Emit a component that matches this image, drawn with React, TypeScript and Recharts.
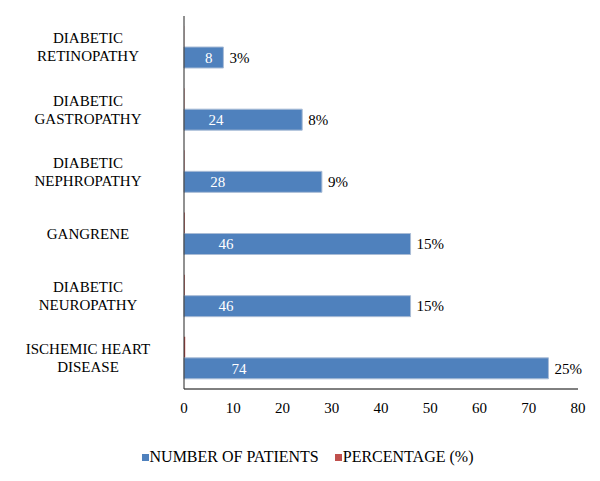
import React from 'react';
import { BarChart, Bar, XAxis, YAxis, Legend, LabelList } from 'recharts';

// categories, top to bottom
const categories: string[] = [
  'DIABETIC\nRETINOPATHY',
  'DIABETIC\nGASTROPATHY',
  'DIABETIC\nNEPHROPATHY',
  'GANGRENE',
  'DIABETIC\nNEUROPATHY',
  'ISCHEMIC HEART\nDISEASE',
];
const patients: number[] = [8, 24, 28, 46, 46, 74];
const percentage: number[] = [0.03, 0.08, 0.09, 0.15, 0.15, 0.25];
const xTicks: number[] = [0, 10, 20, 30, 40, 50, 60, 70, 80];

const seriesNames = { patients: 'NUMBER OF PATIENTS', percentage: 'PERCENTAGE (%)' };
const BLUE = '#4F81BD';
const RED = '#C0504D';
const FONT = '"Liberation Serif"';

const data = categories.map((name, i) => ({
  name,
  patients: patients[i],
  percentage: percentage[i],
}));

// category label, split on line breaks and centred in the left margin
const CategoryTick = (props: any) => {
  const { y, payload } = props;
  const lines: string[] = String(payload.value).split('\n');
  const lineH = 18;
  const start = y - ((lines.length - 1) * lineH) / 2;
  return (
    <g>
      {lines.map((ln, i) => (
        <text key={i} x={88} y={start + i * lineH} dy="0.35em" textAnchor="middle"
          style={{ fontFamily: FONT, fontSize: 15 }} fill="#000">
          {ln}
        </text>
      ))}
    </g>
  );
};

// white count inside the blue bar
const CountLabel = (props: any) => {
  const { x, y, width, height, value } = props;
  return (
    <text x={x + 21 + width * 0.093} y={y + height / 2} dy="0.35em" textAnchor="middle"
      style={{ fontFamily: FONT, fontSize: 15 }} fill="#fff">
      {value}
    </text>
  );
};

// percentage written just past the end of the blue bar
const PctLabel = (props: any) => {
  const { x, y, width, height, value } = props;
  return (
    <text x={x + width + 6} y={y + height / 2} dy="0.35em" textAnchor="start"
      style={{ fontFamily: FONT, fontSize: 15 }} fill="#000">
      {Math.round(value * 100)}%
    </text>
  );
};

const XTick = (props: any) => {
  const { x, y, payload } = props;
  return (
    <text x={x} y={y} dy="0.71em" textAnchor="middle" style={{ fontFamily: FONT, fontSize: 15 }} fill="#000">
      {payload.value}
    </text>
  );
};

const LegendBox = () => (
  <div style={{ display: 'flex', justifyContent: 'center', paddingLeft: 15, fontFamily: FONT, fontSize: 16, color: '#000' }}>
    {[{ n: seriesNames.patients, c: BLUE }, { n: seriesNames.percentage, c: RED }].map((it, i) => (
      <div key={i} style={{ display: 'flex', alignItems: 'center', marginRight: i === 0 ? 16 : 0 }}>
        <span style={{ display: 'inline-block', width: 7, height: 7, background: it.c, marginRight: 1 }} />
        <span style={{ fontFamily: FONT }}>{it.n}</span>
      </div>
    ))}
  </div>
);

export default function App() {
  return (
    <div style={{ position: 'absolute', left: 0, top: 0, width: 600, height: 481, background: '#fff', fontFamily: FONT }}>
      <BarChart width={600} height={481} data={data} layout="vertical"
        margin={{ top: 16, right: 22, left: 0, bottom: 62 }} barGap={0} barSize={21}>
        <XAxis type="number" domain={[0, 80]} ticks={xTicks} tickLine={false}
          axisLine={{ stroke: '#000' }} tickMargin={7} height={30} tick={<XTick />} />
        <YAxis type="category" dataKey="name" width={184} tickLine={false}
          axisLine={{ stroke: '#222' }} tick={<CategoryTick />} interval={0} />
        <Legend verticalAlign="middle" wrapperStyle={{ top: 448, left: 0, width: 600 }} content={<LegendBox />} />
        <Bar dataKey="percentage" name={seriesNames.percentage} fill={RED} isAnimationActive={false} />
        <Bar dataKey="patients" name={seriesNames.patients} fill={BLUE} stroke="#A9BCD6" strokeWidth={1} isAnimationActive={false}>
          <LabelList dataKey="patients" content={<CountLabel />} />
          <LabelList dataKey="percentage" content={<PctLabel />} />
        </Bar>
      </BarChart>
    </div>
  );
}
